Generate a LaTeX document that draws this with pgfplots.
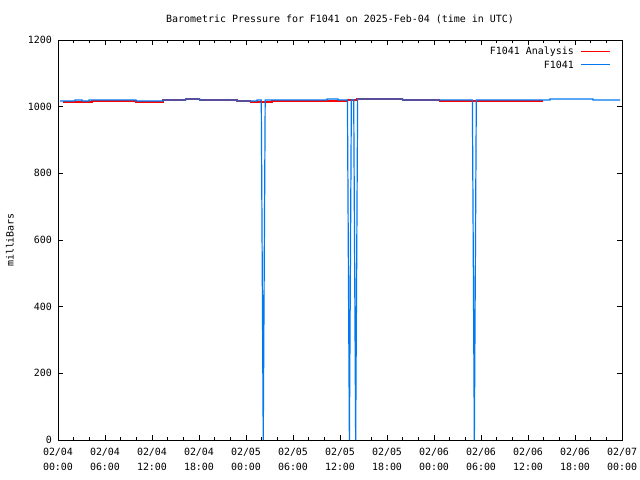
\documentclass[border=0pt]{standalone}
\usepackage{fontspec}
\setmainfont{DejaVu Sans Mono}
\usepackage{pgfplots}
\pgfplotsset{compat=1.18}
\definecolor{gpblue}{RGB}{0,120,240}
\begin{document}
\begin{tikzpicture}[font=\fontsize{10}{14.5}\selectfont]
\begin{axis}[
  scale only axis, width=564bp, height=400bp,
  xmin=0, xmax=72, ymin=0, ymax=1200,
  xtick={0,6,...,72},
  xticklabels={02/04\\00:00,02/04\\06:00,02/04\\12:00,02/04\\18:00,02/05\\00:00,02/05\\06:00,02/05\\12:00,02/05\\18:00,02/06\\00:00,02/06\\06:00,02/06\\12:00,02/06\\18:00,02/07\\00:00},
  minor x tick num=2,
  ytick={0,200,...,1200},
  /pgf/number format/assume math mode=true,
  /pgf/number format/1000 sep={},
  tick align=inside,
  major tick length=5bp, minor tick length=3bp,
  every tick/.append style={black, line width=0.8bp},
  axis line style={line width=0.9bp},
  xticklabel style={align=center, inner sep=0pt, yshift=-8bp},
  yticklabel style={inner sep=0pt, xshift=-6bp},
  title={Barometric Pressure for F1041 on 2025-Feb-04 (time in UTC)},
  title style={at={(axis description cs:0.5,1.0375)}, anchor=center, inner sep=0pt},
  ylabel={milliBars},
  ylabel style={at={(axis description cs:-0.0851,0.5)}, anchor=center, inner sep=0pt},
  clip mode=individual,
]
\addplot[color=red, line width=1.3bp] coordinates {
(0.64,1014) (4.34,1014) (4.34,1017) (9.96,1017) (9.96,1014) (13.4,1014)
(13.4,1020) (16.3,1020) (16.3,1023) (18.1,1023) (18.1,1020) (22.85,1020)
(22.85,1017) (24.6,1017) (24.6,1014) (27.3,1014) (27.3,1017) (37.0,1017)
(37.0,1020) (38.1,1020) (38.1,1023) (44.0,1023) (44.0,1020) (48.7,1020)
(48.7,1017) (61.9,1017)
};
\addplot[color=gpblue, line width=1.2bp] coordinates {
(0.26,1017) (2.17,1017) (2.17,1020) (3.06,1020) (3.06,1017) (3.96,1017)
(3.96,1020) (9.96,1020) (9.96,1017) (13.4,1017) (13.4,1020) (16.3,1020)
(16.3,1023) (18.1,1023) (18.1,1020) (22.85,1020) (22.85,1017) (25.4,1017)
(25.4,1020) (25.95,1020) (26.2,0) (26.45,1020) (34.35,1020) (34.35,1023)
(35.75,1023) (35.75,1020) (36.95,1020) (37.2,0) (37.45,1021) (37.75,1021)
(38.0,0) (38.25,1023) (44.0,1023) (44.0,1020) (52.9,1020) (53.15,0)
(53.4,1020) (62.8,1020) (62.8,1023) (68.3,1023) (68.3,1020) (71.75,1020)
};
% legend
\node[anchor=east, inner sep=0pt] at (axis description cs:0.9149,0.9715) {F1041 Analysis};
\node[anchor=east, inner sep=0pt] at (axis description cs:0.9149,0.9390) {F1041};
\draw[red, line width=1.3bp] (axis description cs:0.9273,0.9715) -- (axis description cs:0.9787,0.9715);
\draw[gpblue, line width=1.3bp] (axis description cs:0.9273,0.9390) -- (axis description cs:0.9787,0.9390);
\coordinate (sw) at (rel axis cs:0,0);
\coordinate (ne) at (rel axis cs:1,1);
\end{axis}
\pgfresetboundingbox
\path[use as bounding box] ([shift={(-58bp,-40bp)}]sw) rectangle ([shift={(18bp,40bp)}]ne);
\end{tikzpicture}
\end{document}
